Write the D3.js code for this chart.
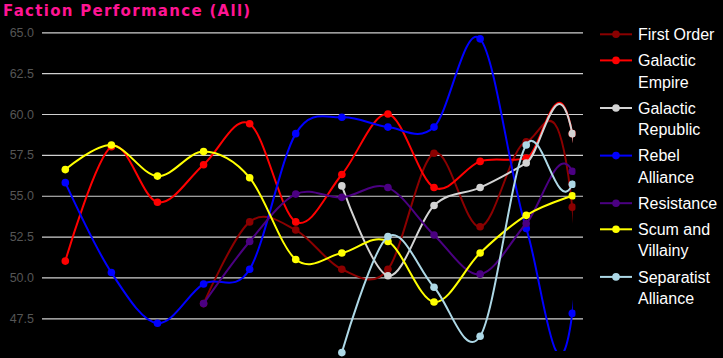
<!DOCTYPE html>
<html><head><meta charset="utf-8">
<script src="https://cdn.jsdelivr.net/npm/d3@7"></script>
<style>
html,body{margin:0;padding:0;background:#000;}
svg{display:block;}
</style></head>
<body>
<svg id="chart" width="723" height="358"></svg>
<script>
const periods = [1,2,3,4,5,6,7,8,9,10,11,12,13];
const yTicks = [47.5, 50.0, 52.5, 55.0, 57.5, 60.0, 62.5, 65.0];
const factions = ["First Order","Galactic Empire","Galactic Republic","Rebel Alliance","Resistance","Scum and Villainy","Separatist Alliance"];
const colors = ["#8b0000","#ff0000","#d3d3d3","#0000ff","#4b0082","#ffff00","#add8e6"];
// the 13th period lies beyond the clipped plot edge; only the curve shape it induces is visible
const firstOrder = [null,null,null,48.4,53.4,52.9,50.5,50.5,57.6,53.1,58.3,54.3,7.0];
const galacticEmpire = [51.0,58.0,54.6,56.9,59.4,53.4,56.3,60.0,55.5,57.1,57.3,58.8,28.0];
const galacticRepublic = [null,null,null,null,null,null,55.6,50.1,54.4,55.5,57.0,58.8,28.6];
const rebelAlliance = [55.8,50.3,47.2,49.6,50.5,58.8,59.8,59.2,59.2,64.6,53.0,47.8,95.0];
const resistance = [null,null,null,48.4,52.2,55.1,54.9,55.5,52.6,50.2,53.3,56.5,42.3];
const scumAndVillainy = [56.6,58.1,56.2,57.7,56.1,51.1,51.5,52.2,48.5,51.5,53.8,55.0,55.8];
const separatistAlliance = [null,null,null,null,null,null,45.4,52.5,49.4,46.4,58.1,55.7,70.8];
const seriesValues = [firstOrder,galacticEmpire,galacticRepublic,rebelAlliance,resistance,scumAndVillainy,separatistAlliance];

const svg = d3.select("#chart");
svg.append("rect").attr("width",723).attr("height",358).attr("fill","#000");

const x = d3.scalePoint().domain(periods).range([65.3, 618.4]);
const y = d3.scaleLinear().domain([47.5, 65]).range([318.3, 32.3]);

svg.append("text").text("Faction Performance (All)")
  .attr("x",3).attr("y",16)
  .attr("fill","#ff1493")
  .attr("font-family","DejaVu Sans")
  .attr("font-weight","bold")
  .attr("font-size","15px")
  .attr("letter-spacing","1.3px");

// grid + ticks
const axis = d3.axisLeft(y).tickValues(yTicks).tickFormat(d3.format(".1f")).tickSize(-(583-42)).tickPadding(8);
const gAxis = svg.append("g").attr("transform","translate(42,0)").call(axis);
gAxis.select(".domain").remove();
gAxis.selectAll(".tick line").attr("stroke","#d0d0d0").attr("stroke-width",1.2);
gAxis.selectAll(".tick text").attr("fill","#555").attr("font-family","Liberation Sans, Arial, sans-serif").attr("font-size","12.5px");

const defs = svg.append("defs");
defs.append("clipPath").attr("id","clipLines").append("rect")
  .attr("x",40).attr("y",20).attr("width",532.8).attr("height",331);
defs.append("clipPath").attr("id","clipPts").append("rect")
  .attr("x",0).attr("y",0).attr("width",575.5).attr("height",358);

const line = d3.line()
  .x(d => x(d.p))
  .y(d => y(d.v))
  .curve(d3.curveCardinal);

factions.forEach((f, si) => {
  const vals = seriesValues[si];
  const data = vals.map((v,i) => ({p: periods[i], v})).filter(d => d.v != null);
  const g = svg.append("g");
  g.append("path").datum(data).attr("d", line)
    .attr("fill","none").attr("stroke",colors[si]).attr("stroke-width",2)
    .attr("clip-path","url(#clipLines)");
  g.append("g").attr("clip-path","url(#clipPts)")
    .selectAll("circle").data(data).enter().append("circle")
    .attr("cx", d => x(d.p)).attr("cy", d => y(d.v))
    .attr("r",3.8).attr("fill",colors[si]);
});

// legend
const legendLines = [["First Order"],["Galactic","Empire"],["Galactic","Republic"],["Rebel","Alliance"],["Resistance"],["Scum and","Villainy"],["Separatist","Alliance"]];
let ly = 34.3;
legendLines.forEach((lines, si) => {
  const g = svg.append("g");
  g.append("line").attr("x1",600).attr("x2",632).attr("y1",ly).attr("y2",ly)
    .attr("stroke",colors[si]).attr("stroke-width",2);
  g.append("circle").attr("cx",616).attr("cy",ly).attr("r",3.8).attr("fill",colors[si]);
  lines.forEach((t, k) => {
    g.append("text").text(t).attr("x",638).attr("y",ly + k*21.5)
      .attr("dy","0.35em").attr("fill","#fff")
      .attr("font-family","Liberation Sans, Arial, sans-serif").attr("font-size","16px");
  });
  ly += lines.length*21.5 + 4.6;
});
</script>
</body></html>
